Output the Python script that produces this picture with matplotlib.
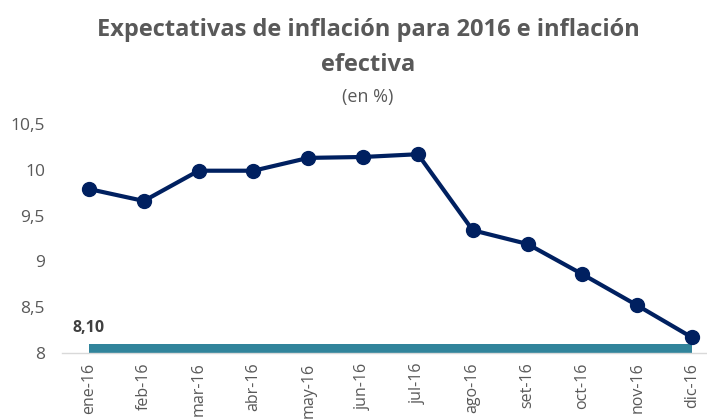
import matplotlib
matplotlib.use("Agg")
import matplotlib.pyplot as plt

meses = ["ene-16", "feb-16", "mar-16", "abr-16", "may-16", "jun-16",
         "jul-16", "ago-16", "set-16", "oct-16", "nov-16", "dic-16"]
expectativas = [9.79, 9.66, 9.99, 9.99, 10.13, 10.14, 10.17, 9.34, 9.19, 8.86, 8.52, 8.17]
inflacion_efectiva = [8.10] * 12
ytick_vals = [8, 8.5, 9, 9.5, 10, 10.5]
ytick_labels = ["8", "8,5", "9", "9,5", "10", "10,5"]

plt.rcParams['font.family'] = ['Open Sans', 'DejaVu Sans']
grey = "#595959"

fig = plt.figure(figsize=(7.07, 4.19), dpi=100)
ax = fig.add_axes([61.6/707, 1-353/419, (719.4-61.6)/707, (353-124)/419])

x = list(range(len(meses)))
ax.fill_between(x, 8, inflacion_efectiva, color="#31849B", linewidth=0, zorder=2)
ax.plot(x, expectativas, color="#002060", linewidth=3, marker="o", markersize=10,
        zorder=3, clip_on=False)

ax.text(0, 8.27, "8,10", ha="center", va="center",
        fontsize=11.5, fontweight="bold", color="#404040")

ax.set_xlim(-0.5, 11.5)
ax.set_ylim(8, 10.5)
ax.set_yticks(ytick_vals)
ax.set_yticklabels(ytick_labels)
ax.set_xticks(x)
ax.set_xticklabels(meses, rotation=90)
ax.tick_params(axis="both", length=0, colors=grey)
ax.tick_params(axis="y", pad=12, labelsize=12.5)
ax.tick_params(axis="x", pad=7, labelsize=11.5)
for s in ["top", "right", "left"]:
    ax.spines[s].set_visible(False)
ax.spines["bottom"].set_color("#D9D9D9")
ax.spines["bottom"].set_linewidth(1)

fig.text(368/707, 1-30/419, "Expectativas de inflación para 2016 e inflación",
         ha="center", va="center", fontsize=17, fontweight="bold", color=grey)
fig.text(368/707, 1-65/419, "efectiva", ha="center", va="center",
         fontsize=17, fontweight="bold", color=grey)
fig.text(368/707, 1-97/419, "(en %)", ha="center", va="center",
         fontsize=13, color=grey)

fig.savefig("out.png", dpi=100)
